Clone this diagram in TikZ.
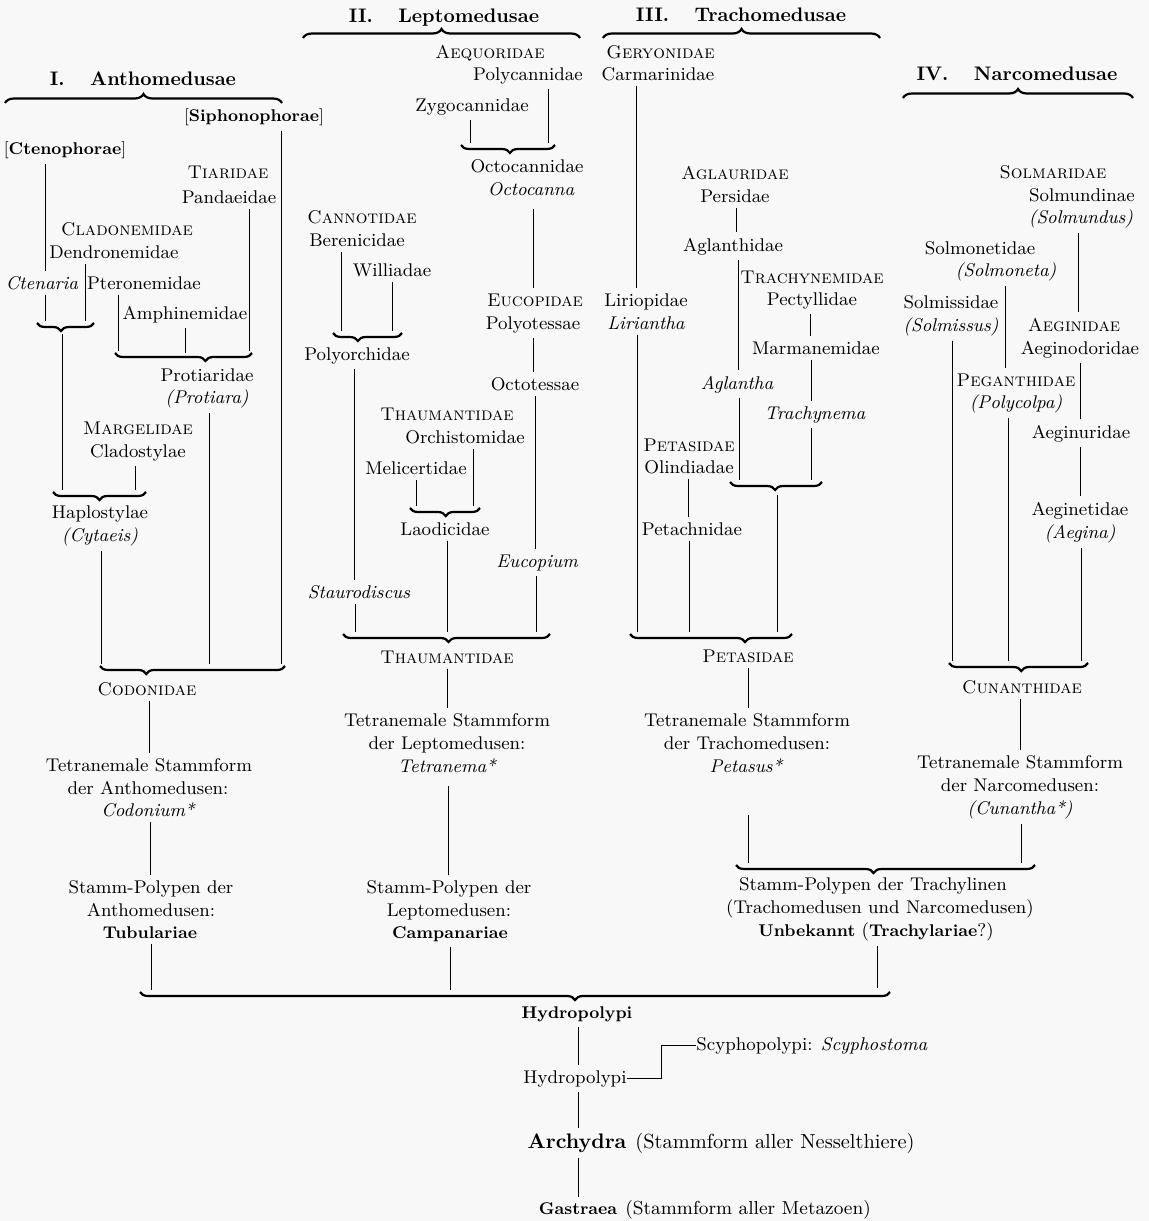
\documentclass[tikz,border=0pt]{standalone}
\usetikzlibrary{decorations.pathreplacing}
\definecolor{bgc}{RGB}{248,248,248}
\newcommand\fsz{\fontsize{9.2}{11}\selectfont}
\newcommand\bsz{\fontsize{8.5}{10}\selectfont\bfseries}
\begin{document}
\begin{tikzpicture}[x=0.5pt,y=-0.5pt,
  tx/.style={anchor=base, inner xsep=0pt, inner ysep=2.5pt, font=\fsz},
  txsc/.style={tx, font=\fsz\scshape},
  txit/.style={tx, font=\fsz\itshape},
  txbf/.style={tx, font=\bsz},
  hdg/.style={tx, font=\fontsize{9.8}{12}\selectfont\bfseries},
  vln/.style={line width=0.5pt},
  brU/.style={decorate, decoration={brace, amplitude=4.5pt, aspect=#1}, line width=1.1pt},
  brU/.default=0.5,
  brD/.style={decorate, decoration={brace, mirror, amplitude=4pt, aspect=#1}, line width=1.1pt},
  brD/.default=0.5]
\path[use as bounding box, fill=bgc] (0,0) rectangle (1149,1221);

% ---------------- I. Anthomedusae ----------------
\node[hdg] (hA) at (143,85) {I.\hspace{1.3em}Anthomedusae};
\node[txbf] (siph) at (254,121) {\textmd{[}Siphonophorae\textmd{]}};
\node[txbf] (cteno) at (65,154) {\textmd{[}Ctenophorae\textmd{]}};
\node[txsc] (tiar) at (228,178) {Tiaridae};
\node[tx] (pand) at (229,203) {Pandaeidae};
\node[txsc] (clad) at (127,235) {Cladonemidae};
\node[tx] (dendr) at (114,258) {Dendronemidae};
\node[txit] (cten) at (42,289) {Ctenaria};
\node[tx] (pter) at (144,289) {Pteronemidae};
\node[tx] (amph) at (185,319) {Amphinemidae};
\node[tx] (prot) at (207,381) {Protiaridae};
\node[txit] (protiara) at (207,403) {(Protiara)};
\node[txsc] (marg) at (138,434) {Margelidae};
\node[tx] (cladost) at (138,457) {Cladostylae};
\node[tx] (hapl) at (100,518) {Haplostylae};
\node[txit] (cyt) at (100,541) {(Cytaeis)};
\node[txsc] (codon) at (147,695) {Codonidae};
\node[tx] (tetA1) at (149,771) {Tetranemale Stammform};
\node[tx] (tetA2) at (148,794) {der Anthomedusen:};
\node[txit] (tetA3) at (148,816) {Codonium*};
\node[tx] (spA1) at (151,893) {Stamm-Polypen der};
\node[tx] (spA2) at (151,916) {Anthomedusen:};
\node[txbf] (spA3) at (150,938) {Tubulariae};

% ---------------- II. Leptomedusae ----------------
\node[hdg] (hB) at (444,22) {II.\hspace{1.3em}Leptomedusae};
\node[txsc] (aequ) at (490,58) {Aequoridae};
\node[tx] (polyc) at (528,80) {Polycannidae};
\node[tx] (zygo) at (472,111) {Zygocannidae};
\node[tx] (octoc) at (527,172) {Octocannidae};
\node[txit] (octocanna) at (531,195) {Octocanna};
\node[txsc] (canno) at (362,223) {Cannotidae};
\node[tx] (beren) at (357,246) {Berenicidae};
\node[tx] (willi) at (392,276) {Williadae};
\node[tx] (polyo) at (357,360) {Polyorchidae};
\node[txit] (staur) at (359,598) {Staurodiscus};
\node[txsc] (eucop) at (535,306) {Eucopidae};
\node[tx] (polyot) at (533,329) {Polyotessae};
\node[tx] (octot) at (535,390) {Octotessae};
\node[txit] (eucopium) at (537,567) {Eucopium};
\node[txsc] (thaum1) at (447,420) {Thaumantidae};
\node[tx] (orch) at (465,443) {Orchistomidae};
\node[tx] (melic) at (416,474) {Melicertidae};
\node[tx] (laod) at (445,535) {Laodicidae};
\node[txsc] (thaum2) at (447,663) {Thaumantidae};
\node[tx] (tetL1) at (447,726) {Tetranemale Stammform};
\node[tx] (tetL2) at (447,749) {der Leptomedusen:};
\node[txit] (tetL3) at (447,772) {Tetranema*};
\node[tx] (spL1) at (449,893) {Stamm-Polypen der};
\node[tx] (spL2) at (449,916) {Leptomedusen:};
\node[txbf] (spL3) at (450,938) {Campanariae};

% ---------------- III. Trachomedusae ----------------
\node[hdg] (hC) at (741,21) {III.\hspace{1.3em}Trachomedusae};
\node[txsc, anchor=base west] (geryo) at (606,58) {Geryonidae};
\node[tx] (carm) at (658,80) {Carmarinidae};
\node[tx] (lirio) at (646,306) {Liriopidae};
\node[txit] (lirian) at (646,329) {Liriantha};
\node[txsc] (aglau) at (735,179) {Aglauridae};
\node[tx] (pers) at (735,202) {Persidae};
\node[tx] (aglan) at (733,251) {Aglanthidae};
\node[txit] (aglantha) at (737,389) {Aglantha};
\node[txsc] (trachy) at (812,283) {Trachynemidae};
\node[tx] (pecty) at (812,305) {Pectyllidae};
\node[tx] (marma) at (816,354) {Marmanemidae};
\node[txit] (trachynema) at (815,419) {Trachynema};
\node[txsc] (petas1) at (689,451) {Petasidae};
\node[tx] (olind) at (689,473) {Olindiadae};
\node[tx] (petach) at (692,535) {Petachnidae};
\node[txsc] (petas2) at (748,662) {Petasidae};
\node[tx] (tetT1) at (747,726) {Tetranemale Stammform};
\node[tx] (tetT2) at (747,749) {der Trachomedusen:};
\node[txit] (tetT3) at (746,772) {Petasus*};
\node[tx] (spT1) at (873,890) {Stamm-Polypen der Trachylinen};
\node[tx] (spT2) at (880,913) {(Trachomedusen und Narcomedusen)};
\node[tx] (spT3) at (876,936) {{\bsz Unbekannt} ({\bsz Trachylariae}?)};

% ---------------- IV. Narcomedusae ----------------
\node[hdg] (hD) at (1017,80) {IV.\hspace{1.3em}Narcomedusae};
\node[txsc] (solmar) at (1053,178) {Solmaridae};
\node[tx] (solmund) at (1082,201) {Solmundinae};
\node[txit] (solmundus) at (1081,223) {(Solmundus)};
\node[tx] (solmon) at (980,254) {Solmonetidae};
\node[txit] (solmoneta) at (1006,276) {(Solmoneta)};
\node[tx] (solmis) at (951,308) {Solmissidae};
\node[txit] (solmissus) at (951,331) {(Solmissus)};
\node[txsc] (aegin) at (1074,331) {Aeginidae};
\node[tx] (aeginod) at (1080,354) {Aeginodoridae};
\node[txsc] (pegan) at (1016,386) {Peganthidae};
\node[txit] (polycolpa) at (1016,408) {(Polycolpa)};
\node[tx] (aeginur) at (1081,438) {Aeginuridae};
\node[tx] (aeginet) at (1080,515) {Aeginetidae};
\node[txit] (aegina) at (1080,538) {(Aegina)};
\node[txsc] (cunan) at (1022,693) {Cunanthidae};
\node[tx] (tetN1) at (1020,768) {Tetranemale Stammform};
\node[tx] (tetN2) at (1020,791) {der Narcomedusen:};
\node[txit] (tetN3) at (1020,814) {(Cunantha*)};

% ---------------- bottom ----------------
\node[txbf] (hyd1) at (577,1018) {Hydropolypi};
\node[tx] (hyd2) at (575,1083) {Hydropolypi};
\node[tx, anchor=base west] (scy) at (696,1050) {Scyphopolypi: \textit{Scyphostoma}};
\node[tx, font=\fontsize{10.5}{12}\selectfont\bfseries] (arch) at (577,1148) {Archydra};
\node[tx, anchor=base west, font=\fontsize{10.2}{12}\selectfont] (archp) at (635,1148) {(Stammform aller Nesselthiere)};
\node[txbf] (gast) at (578,1214) {Gastraea};
\node[tx, anchor=base west, font=\fontsize{9.4}{11}\selectfont] (gastp) at (625,1214) {(Stammform aller Metazoen)};

% ---------------- braces ----------------
\draw[brU] (5,103) -- (282,103);
\draw[brU] (303,38) -- (580,38);
\draw[brU] (603,38) -- (880,38);
\draw[brU] (903,98) -- (1133,98);

\draw[brD=0.42] (37,323) -- (94,323);
\draw[brD=0.66] (115,353) -- (252,353);
\draw[brD=0.5] (53,492) -- (146,492);
\draw[brD=0.25] (100,666) -- (285,666);

\draw[brD=0.52] (461,145) -- (555,145);
\draw[brD=0.36] (333,333) -- (402,333);
\draw[brD=0.51] (410,508) -- (480,508);
\draw[brD=0.51] (343,634) -- (550,634);

\draw[brD=0.49] (730,482) -- (822,482);
\draw[brD=0.71] (630,634) -- (792,634);
\draw[brD=0.46] (736,865) -- (1035,865);

\draw[brD=0.52] (949,663) -- (1088,663);

\draw[brD=0.58] (140,992) -- (890,992);

% ---------------- connectors I ----------------
\draw[vln] (siph.south -| 281,0) -- (281,664);
\draw[vln] (cteno.south -| 45,0) -- (cten.north -| 45,0);
\draw[vln] (cten.south -| 45,0) -- (45,321);
\draw[vln] (dendr.south -| 85,0) -- (85,321);
\draw[vln] (pand.south -| 249,0) -- (249,351);
\draw[vln] (pter.south -| 118,0) -- (118,351);
\draw[vln] (amph.south) -- (185,353);
\draw[vln] (62,334) -- (62,490);
\draw[vln] (cladost.south -| 135,0) -- (135,490);
\draw[vln] (protiara.south -| 209,0) -- (209,664);
\draw[vln] (cyt.south -| 101,0) -- (101,664);
\draw[vln] (codon.south -| 149,0) -- (tetA1.north -| 149,0);
\draw[vln] (tetA3.south -| 150,0) -- (spA1.north -| 150,0);
\draw[vln] (spA3.south -| 151,0) -- (151,990);

% ---------------- connectors II ----------------
\draw[vln] (polyc.south -| 548,0) -- (548,143);
\draw[vln] (zygo.south -| 470,0) -- (470,143);
\draw[vln] (octocanna.south -| 533,0) ++(0,8) -- (eucop.north -| 533,0);
\draw[vln] (beren.south -| 341,0) -- (341,331);
\draw[vln] (willi.south -| 392,0) -- (392,331);
\draw[vln] (polyo.south -| 354,0) -- (staur.north -| 354,0);
\draw[vln] (staur.south -| 355,0) -- (355,632);
\draw[vln] (polyot.south -| 533,0) -- (octot.north -| 533,0);
\draw[vln] (octot.south -| 535,0) -- (eucopium.north -| 535,0);
\draw[vln] (eucopium.south -| 536,0) -- (536,632);
\draw[vln] (orch.south -| 473,0) -- (473,506);
\draw[vln] (melic.south -| 416,0) -- (416,506);
\draw[vln] (laod.south -| 447,0) -- (447,632);
\draw[vln] (thaum2.south -| 447,0) -- (tetL1.north -| 447,0);
\draw[vln] (448,786) -- (spL1.north -| 448,0);
\draw[vln] (spL3.south -| 450,0) -- (450,990);

% ---------------- connectors III ----------------
\draw[vln] (carm.south -| 636,0) -- (lirio.north -| 636,0);
\draw[vln] (lirian.south -| 637,0) -- (637,632);
\draw[vln] (pers.south -| 736,0) -- (aglan.north -| 736,0);
\draw[vln] (aglan.south -| 738,0) -- (aglantha.north -| 738,0);
\draw[vln] (aglantha.south -| 739,0) -- (739,480);
\draw[vln] (pecty.south -| 810,0) -- (marma.north -| 810,0);
\draw[vln] (marma.south -| 811,0) -- (trachynema.north -| 811,0);
\draw[vln] (trachynema.south -| 811,0) -- (811,480);
\draw[vln] (olind.south -| 688,0) -- (petach.north -| 688,0);
\draw[vln] (petach.south -| 689,0) -- (689,632);
\draw[vln] (777,495) -- (777,632);
\draw[vln] (petas2.south -| 748,0) -- (tetT1.north -| 748,0);
\draw[vln] (748,815) -- (748,863);
\draw[vln] (spT3.south -| 877,0) -- (877,988);

% ---------------- connectors IV ----------------
\draw[vln] (solmundus.south -| 1078,0) -- (aegin.north -| 1078,0);
\draw[vln] (solmoneta.south -| 1005,0) -- (pegan.north -| 1005,0);
\draw[vln] (solmissus.south -| 952,0) -- (952,661);
\draw[vln] (aeginod.south -| 1080,0) -- (aeginur.north -| 1080,0);
\draw[vln] (aeginur.south -| 1080,0) -- (aeginet.north -| 1080,0);
\draw[vln] (aegina.south -| 1081,0) -- (1081,661);
\draw[vln] (polycolpa.south -| 1008,0) -- (1008,661);
\draw[vln] (cunan.south -| 1020,0) -- (tetN1.north -| 1020,0);
\draw[vln] (tetN3.south -| 1021,0) -- (1021,863);

% ---------------- connectors bottom ----------------
\draw[vln] (hyd1.south -| 578,0) -- (hyd2.north -| 578,0);
\draw[vln] (hyd2.east) -- (hyd2.east -| 661,0) |- (scy.west);
\draw[vln] (hyd2.south -| 578,0) -- (arch.north -| 578,0);
\draw[vln] (arch.south -| 578,0) -- (gast.north -| 578,0);
\end{tikzpicture}
\end{document}
